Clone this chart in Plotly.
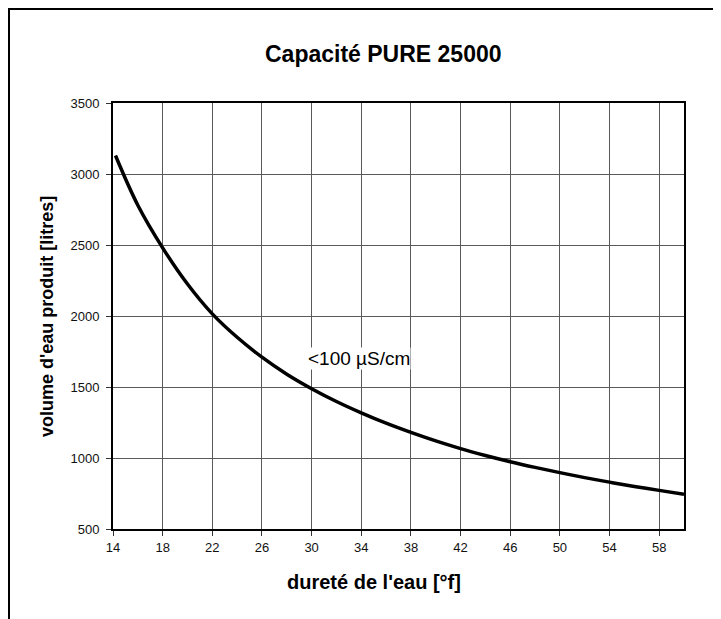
import plotly.graph_objects as go

hardness = [14.2, 16, 18, 20, 22, 24, 26, 28, 30, 32, 34, 36, 38, 40, 42, 44, 46, 48, 50, 52, 54, 56, 58, 60]
volume = [3130, 2780, 2480, 2225, 2015, 1850, 1710, 1590, 1488, 1398, 1318, 1245, 1180, 1120,
          1066, 1018, 974, 934, 897, 862, 830, 800, 772, 745]
x_ticks = [14, 18, 22, 26, 30, 34, 38, 42, 46, 50, 54, 58]
y_ticks = [500, 1000, 1500, 2000, 2500, 3000, 3500]

FONT = "Liberation Sans, Arial, sans-serif"
W, H = 721, 619
OFF = 8  # page body margin
PL, PT, PW, PH = 113, 103, 571, 426  # plot area on screen
L, T = PL - OFF, PT - OFF
R, B = W - L - PW, H - T - PH

def px(x):
    return (x - PL) / PW

def py(y):
    return (PT + PH - y) / PH

fig = go.Figure()
fig.add_trace(go.Scatter(x=hardness, y=volume, mode="lines",
                         line=dict(color="black", width=3.5, shape="spline", smoothing=1.0),
                         showlegend=False, hoverinfo="skip"))

axis_common = dict(showgrid=True, gridcolor="#5a5a5a", gridwidth=1,
                   showline=True, linecolor="black", linewidth=2, mirror=True,
                   ticks="outside", ticklen=5, tickcolor="#333333", tickwidth=1,
                   tickfont=dict(family=FONT, size=13, color="#111111"), zeroline=False)

fig.update_xaxes(range=[14, 60], tickvals=x_ticks, **axis_common)
fig.update_yaxes(range=[500, 3500], tickvals=y_ticks, ticklabelstandoff=4, **axis_common)

fig.add_annotation(x=33.85, y=1700, xref="x", yref="y", text="&lt;100 µS/cm",
                   showarrow=False, font=dict(family=FONT, size=19, color="black"),
                   bgcolor="white", borderpad=0)
fig.add_annotation(x=px(383), y=py(54), xref="paper", yref="paper",
                   text="<b>Capacité PURE 25000</b>", showarrow=False,
                   xanchor="center", yanchor="middle",
                   font=dict(family=FONT, size=23, color="black"))
fig.add_annotation(x=px(374), y=py(582), xref="paper", yref="paper",
                   text="<b>dureté de l'eau [°f]</b>", showarrow=False,
                   xanchor="center", yanchor="middle",
                   font=dict(family=FONT, size=20, color="black"))
fig.add_annotation(x=px(47), y=py(317), xref="paper", yref="paper",
                   text="<b>volume d'eau produit [litres]</b>", showarrow=False,
                   xanchor="center", yanchor="middle", textangle=-90,
                   font=dict(family=FONT, size=18, color="black"))

fig.add_shape(type="rect", xref="paper", yref="paper",
              x0=px(9), x1=px(745), y0=py(645), y1=py(9),
              line=dict(color="black", width=2), fillcolor="rgba(0,0,0,0)", layer="above")

fig.update_layout(width=W, height=H, margin=dict(l=L, r=R, t=T, b=B),
                  paper_bgcolor="white", plot_bgcolor="white",
                  font=dict(family=FONT))

fig.write_html("out.html")
